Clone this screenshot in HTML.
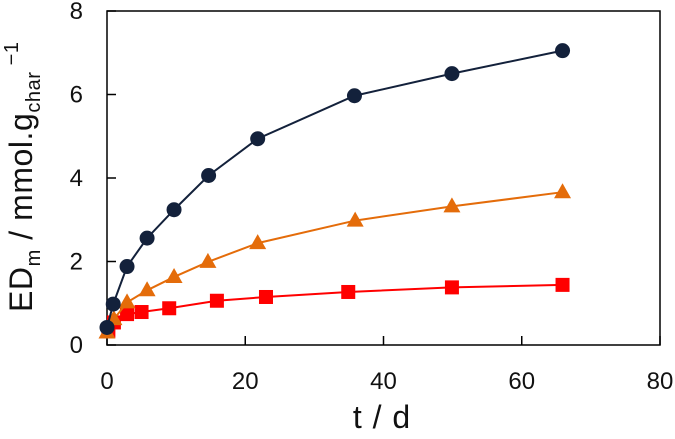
<!DOCTYPE html>
<html><head><meta charset="utf-8"><style>
body{margin:0;background:#fff;width:675px;height:434px;overflow:hidden}
svg{font-family:"Liberation Sans",sans-serif}
</style></head><body>
<svg id="chart" width="675" height="434" viewBox="0 0 675 434" xmlns="http://www.w3.org/2000/svg">
<g id="axes"></g>
<g id="series"></g>
<text x="382" y="428" font-size="32" text-anchor="middle" fill="#111" letter-spacing="1">t / d</text>
<text transform="translate(32,177) rotate(-90)" font-size="32" text-anchor="middle" fill="#111" textLength="270">ED<tspan font-size="20" dy="8">m</tspan><tspan dy="-8"> / mmol.g</tspan><tspan font-size="20" dy="8">char</tspan><tspan font-size="20" dy="-22"> −1</tspan></text>
</svg>
<script>
const xTicks=[0,20,40,60,80];
const yTicks=[0,2,4,6,8];
const tCircle=[0,0.9,2.9,5.8,9.7,14.7,21.8,35.8,49.9,65.9];
const vCircle=[0.42,0.98,1.88,2.56,3.24,4.06,4.94,5.97,6.5,7.05];
const tTri=[0,1,2.9,5.8,9.7,14.6,21.8,35.9,49.9,65.9];
const vTri=[0.3,0.62,1.02,1.31,1.63,1.99,2.44,2.98,3.32,3.66];
const tSq=[0.2,1,2.9,5,9,15.9,23,34.9,49.9,65.9];
const vSq=[0.34,0.54,0.74,0.79,0.88,1.06,1.15,1.27,1.38,1.44];
const L=107,R=660,T=11,B=345;
const X=v=>L+(R-L)*v/80, Y=v=>B-(B-T)*v/8;
const NS="http://www.w3.org/2000/svg";
function mk(tag,attrs,parent){const e=document.createElementNS(NS,tag);for(const k in attrs)e.setAttribute(k,attrs[k]);parent.appendChild(e);return e;}
const ax=document.getElementById('axes'), se=document.getElementById('series');
const frame=mk('rect',{x:L,y:T,width:R-L,height:B-T,fill:'none',stroke:'#000','stroke-width':1.5},ax);


xTicks.forEach(v=>{
 const t=mk('line',{x1:X(v),x2:X(v),y1:B,y2:B-9,stroke:'#000','stroke-width':1.5},ax);
 
 
 const l=mk('text',{x:X(v),y:389,'font-size':24,'text-anchor':'middle',fill:'#111'},ax);l.textContent=v;
 
 
});
yTicks.forEach(v=>{
 const t=mk('line',{x1:L,x2:L+9,y1:Y(v),y2:Y(v),stroke:'#000','stroke-width':1.5},ax);
 
 
 const l=mk('text',{x:83,y:Y(v)+8,'font-size':24,'text-anchor':'end',fill:'#111'},ax);l.textContent=v;
 
 
});
function series(ts,vs,color,shape,name){
 const p=mk('polyline',{points:ts.map((t,i)=>X(t)+','+Y(vs[i])).join(' '),fill:'none',stroke:color,'stroke-width':2},se);
 
 
 ts.forEach((t,i)=>{
  const x=X(t),y=Y(vs[i]);let m;
  if(shape==='c')m=mk('circle',{cx:x,cy:y,r:7.5,fill:color},se);
  else if(shape==='s')m=mk('rect',{x:x-7,y:y-7,width:14,height:14,fill:color},se);
  else m=mk('polygon',{points:`${x},${y-9} ${x-8.5},${y+6} ${x+8.5},${y+6}`,fill:color},se);
  
  
 });
}
series(tSq,vSq,'#ff0000','s','square-series');
series(tTri,vTri,'#e46c0a','t','triangle-series');
series(tCircle,vCircle,'#13213b','c','circle-series');
</script>
</body></html>
